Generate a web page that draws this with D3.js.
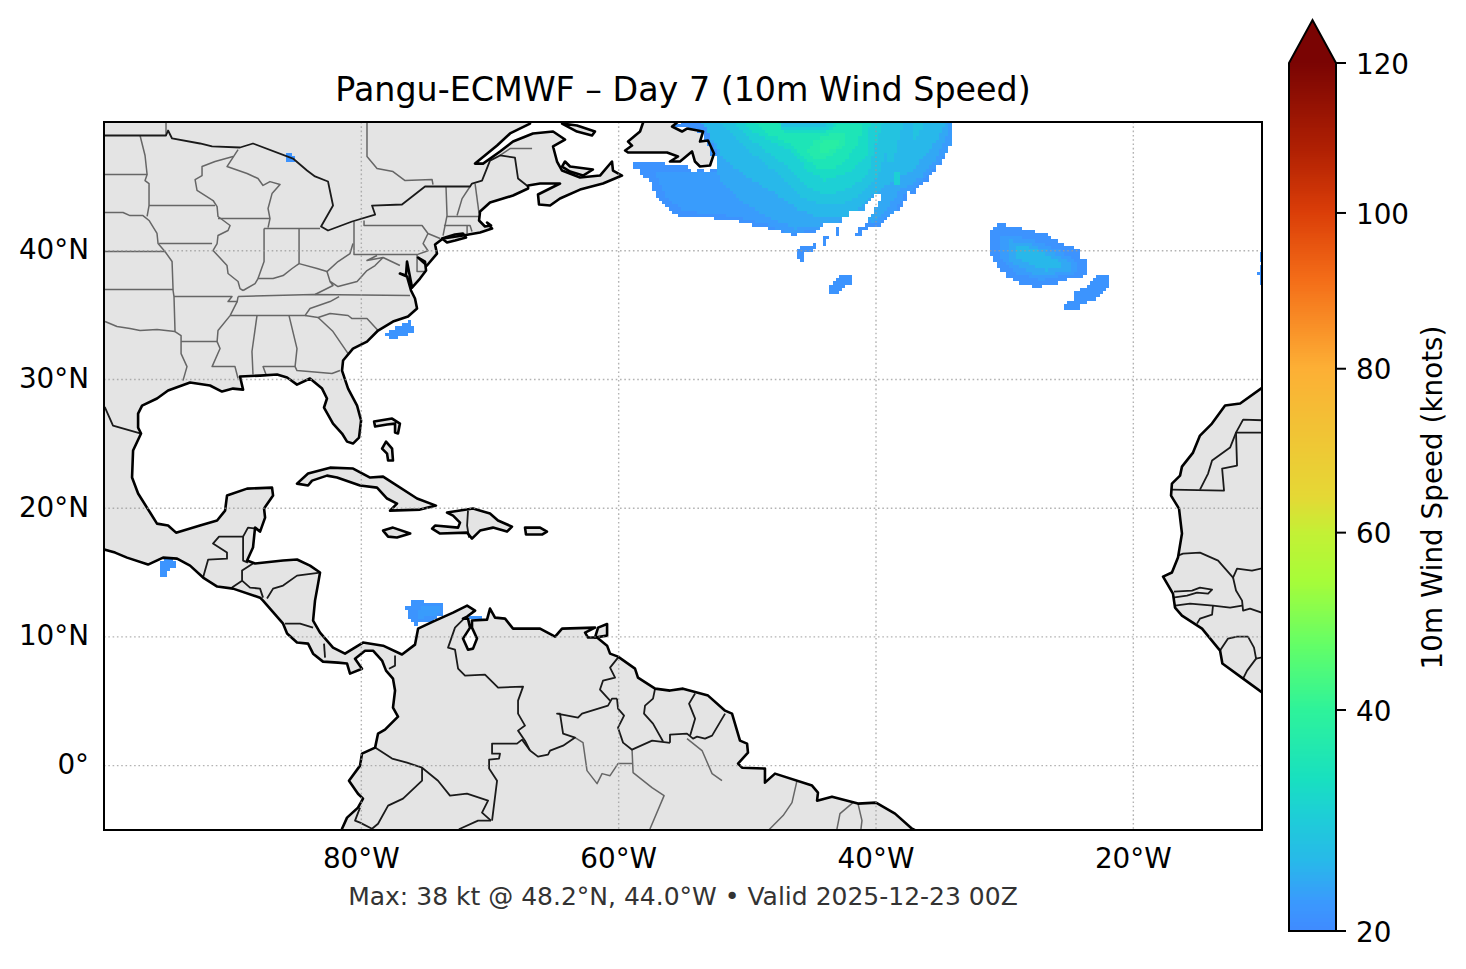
<!DOCTYPE html>
<html>
<head>
<meta charset="utf-8">
<title>Pangu-ECMWF Day 7</title>
<script src="https://cdn.jsdelivr.net/npm/d3@7"></script>
<style>
body { margin: 0; background: #fff; font-family: "DejaVu Sans", sans-serif; }
svg text { font-family: "DejaVu Sans", sans-serif; fill: #000; }
</style>
</head>
<body>
<svg id="chart" width="1466" height="969"></svg>
<script>
// ---- labels and ticks
const titleText = "Pangu-ECMWF \u2013 Day 7 (10m Wind Speed)";
const footText = "Max: 38 kt @ 48.2\u00b0N, 44.0\u00b0W \u2022 Valid 2025-12-23 00Z";
const cbarLabel = "10m Wind Speed (knots)";
const lonTicks = [-80, -60, -40, -20];
const latTicks = [0, 10, 20, 30, 40];
const cbarTicks = [20, 40, 60, 80, 100, 120];

// ---- colours (position 0-1, colour)
const cmapPos = [0, 0.03, 0.078, 0.136, 0.174, 0.2546, 0.327, 0.404, 0.459, 0.5, 0.648, 0.75, 0.827, 0.9, 1];
const cmapCol = ["#3f8cff", "#3b98fe", "#28b8ea", "#1dd0d5", "#18e0c0", "#2ef39a", "#62fe68", "#a8fc38", "#c4f035", "#e5d835", "#fdaf35", "#f46d18", "#db3e08", "#b02003", "#7a0403"];

// ---- land, [lon, lat]
const americas = [[-66.89,50.5],[-66.89,49.88],[-68.44,49.11],[-69.45,48.17],[-71.16,46.77],[-70.54,46.77],[-69.22,47.71],[-68.21,48.48],[-66.66,49.11],[-65.1,49.26],[-64.17,48.64],[-65.1,48.1],[-64.79,46.93],[-64.4,46.23],[-63,45.69],[-61.45,45.84],[-60.52,46.93],[-60.44,46.23],[-59.74,45.84],[-61.22,45.22],[-63,44.75],[-64.56,44.06],[-65.33,43.51],[-66.19,43.59],[-66.27,44.37],[-64.56,45.22],[-66.11,45.22],[-67.04,45.07],[-67.04,44.83],[-68.21,44.29],[-70,43.74],[-70.77,43.05],[-70.85,42.35],[-70.39,41.88],[-69.92,41.96],[-70.23,42.19],[-69.84,41.72],[-70.77,41.41],[-72.1,41.18],[-73.65,40.95],[-73.96,40.71],[-74.27,40.48],[-74.12,39.78],[-74.9,38.85],[-75.59,39.47],[-75.05,39.16],[-74.97,38.46],[-75.44,37.84],[-76.06,37.14],[-76.45,39.16],[-76.53,38.07],[-77,38.23],[-76.45,38],[-76.14,36.91],[-75.83,36.29],[-75.67,35.51],[-76.37,34.89],[-77.54,34.5],[-78.7,33.8],[-79.56,32.94],[-80.65,32.4],[-81.42,31.47],[-81.5,30.69],[-81.03,29.29],[-80.33,27.97],[-80.02,26.81],[-80.18,25.48],[-80.65,25.02],[-81.11,25.17],[-81.5,25.8],[-82.2,26.57],[-82.9,27.82],[-82.67,28.52],[-83.05,29.29],[-83.99,30.07],[-85,29.6],[-85.77,30.15],[-86.55,30.38],[-87.87,30.3],[-89.43,30.23],[-89.19,29.21],[-89.97,29.29],[-90.83,29.06],[-91.76,29.53],[-93.31,29.76],[-95.02,29.14],[-95.88,28.52],[-97.04,27.97],[-97.35,27.35],[-97.35,26.26],[-97.12,25.8],[-97.74,24.48],[-97.82,22.38],[-97.35,21.14],[-96.42,19.66],[-95.88,18.8],[-95.02,18.65],[-94.4,18.1],[-92.54,18.65],[-91.21,19.04],[-90.59,19.81],[-90.44,20.98],[-88.88,21.52],[-86.94,21.6],[-86.86,20.98],[-87.56,19.97],[-87.48,19.27],[-87.87,18.18],[-88.26,18.49],[-88.42,16.94],[-88.88,15.93],[-88.26,15.7],[-86.09,15.93],[-85,16.01],[-83.99,15.54],[-83.21,15],[-83.36,14.14],[-83.6,12.82],[-83.75,11.27],[-83.21,10.33],[-82.2,9.17],[-81.27,8.7],[-79.87,9.56],[-78.31,9.32],[-76.84,8.63],[-75.83,9.4],[-75.59,10.64],[-74.43,11.19],[-72.87,11.89],[-71.78,12.43],[-71.16,12.04],[-71.78,11.58],[-72.1,11.42],[-71.71,11.42],[-71.55,10.72],[-72.1,9.87],[-71.71,9.01],[-71.32,9.09],[-71.01,9.87],[-71.4,10.72],[-71.4,11.27],[-70.23,11.34],[-70,12.2],[-69.61,11.5],[-68.83,11.42],[-68.21,10.64],[-66.11,10.64],[-64.94,10.02],[-64.4,10.64],[-61.84,10.72],[-62.61,10.33],[-62.38,9.95],[-61.68,9.95],[-60.9,9.32],[-60.67,8.7],[-60.05,8.47],[-58.73,7.54],[-58.5,6.84],[-57.17,5.98],[-56.01,5.83],[-55,5.98],[-53.05,5.44],[-51.73,4.27],[-51.19,4.04],[-50.57,1.94],[-50.02,1.71],[-49.95,1.01],[-50.72,0.16],[-50.41,-0.16],[-48.63,-0.23],[-48.63,-1.32],[-47.85,-0.62],[-44.97,-1.55],[-44.51,-2.1],[-44.58,-2.72],[-43.42,-2.41],[-41.4,-2.95],[-40,-2.87],[-38.52,-3.73],[-37.2,-4.9],[-36.73,-5.13],[-36.73,-5.83],[-81.5,-5.83],[-81.5,-4.9],[-81.11,-4.04],[-80.26,-3.26],[-79.87,-2.56],[-80.26,-2.18],[-80.96,-1.17],[-80.1,0],[-79.95,0.93],[-78.93,1.4],[-78.7,2.49],[-78.16,2.8],[-77.15,3.81],[-77.54,4.51],[-77.38,5.83],[-77.54,6.76],[-78.08,7.38],[-78.39,8.16],[-79.09,8.93],[-79.71,8.93],[-80.49,8.31],[-79.95,7.53],[-80.88,7.15],[-81.11,7.93],[-81.81,8],[-82.98,8.08],[-83.75,8.7],[-84.14,9.48],[-85,9.56],[-85.77,10.26],[-86.08,11.03],[-87.64,12.82],[-87.87,13.05],[-89.97,13.75],[-91.2,13.91],[-92.3,14.61],[-93.31,15.54],[-94.32,16.08],[-95.41,16.16],[-96.58,15.62],[-98.21,16.16],[-99.14,16.55],[-99.92,16.78],[-100.7,16.86],[-100.7,50.5]];
const newfoundland = [[-58,50.5],[-58.1,49.96],[-58.34,49.26],[-59.27,48.48],[-58.96,48.17],[-59.5,47.79],[-59.27,47.63],[-56.24,47.63],[-55.39,47.32],[-56.01,46.93],[-55.23,46.93],[-54.3,47.71],[-54.07,46.93],[-53.68,46.54],[-52.9,46.62],[-52.59,47.55],[-53.06,48.56],[-53.68,48.48],[-53.44,49.26],[-54.69,49.49],[-55.08,49.26],[-55.85,49.65],[-55.46,49.96],[-55.4,50.5]];
const anticosti = [[-64.4,49.88],[-63.24,49.73],[-61.84,49.26],[-62.07,48.95],[-63.24,49.26]];
const princeEdward = [[-64.17,46.93],[-63.78,46.54],[-62,46.31],[-62.77,45.84],[-63.78,46.15],[-64.4,46.54]];
const longIsland = [[-73.73,40.95],[-72.72,41.26],[-72.1,41.34],[-71.86,41.03],[-72.72,40.79],[-73.34,40.64]];
const cuba = [[-85,21.91],[-84.14,22.69],[-82.43,23.15],[-80.64,23.08],[-79.32,22.38],[-78.31,22.45],[-75.67,20.75],[-74.2,20.2],[-75.44,19.89],[-77.77,19.81],[-77.23,20.36],[-78,20.75],[-78.78,21.6],[-80.1,21.76],[-81.89,22.38],[-82.67,22.53],[-83.83,22.14],[-84.14,21.76]];
const jamaica = [[-78.31,18.26],[-77.54,18.49],[-76.2,18.03],[-77.23,17.72],[-77.92,17.79]];
const hispaniola = [[-73.34,19.66],[-71.32,19.97],[-70,19.58],[-69.38,19.04],[-68.29,18.57],[-68.68,18.18],[-69.77,18.49],[-70.77,18.26],[-71.4,17.64],[-71.78,18.1],[-73.88,18.03],[-74.5,18.41],[-74.27,18.65],[-72.48,18.49],[-72.33,18.88],[-72.87,19.42]];
const puertoRico = [[-67.28,18.49],[-66.11,18.49],[-65.57,18.18],[-65.96,17.95],[-67.2,17.95]];
const andros = [[-78.39,24.63],[-78.08,25.17],[-77.61,24.63],[-77.54,23.7],[-77.92,23.7],[-78,24.24]];
const abaco = [[-79.01,26.73],[-77.61,26.96],[-77,26.57],[-77.15,25.8],[-77.38,25.87],[-77.38,26.57],[-78,26.5],[-78.93,26.34]];
const trinidad = [[-61.6,10.72],[-60.9,11],[-60.9,10.1],[-61.84,9.95]];
const africa = [[-9.38,5.05],[-9.97,5.67],[-11.47,6.76],[-13.08,7.93],[-13.26,8.94],[-14.66,10.64],[-16.22,11.66],[-16.76,12.28],[-16.92,13.36],[-17.69,14.68],[-17,15],[-16.53,16.16],[-16.22,18.03],[-16.45,19.97],[-17.07,20.98],[-17,21.91],[-16.37,22.53],[-16.22,23.23],[-15.36,24.32],[-14.82,25.64],[-13.89,26.57],[-12.87,27.97],[-11.7,28.13],[-9.97,29.37],[-9.38,29.76]];
const landPolygons = [americas, newfoundland, anticosti, princeEdward, longIsland, cuba, jamaica, hispaniola, puertoRico, andros, abaco, trinidad, africa];

// ---- country borders
const countryBorders = [
  [[-100.7,48.95],[-95.18,48.95],[-95.02,49.34],[-94.71,48.72],[-92.54,48.33],[-91.6,48.1],[-89.43,48.02],[-88.42,48.33],[-85.31,47.16],[-84.22,46.23],[-83.6,45.77],[-82.59,45.38],[-82.2,43.51],[-83.13,41.88],[-82.59,41.57],[-80.72,42.27],[-78.93,42.81],[-79.17,43.51],[-76.84,43.59],[-75.05,44.99],[-71.55,44.99],[-71.4,45.22],[-70.62,45.45],[-70,47],[-69.22,47.4],[-68.06,47.24],[-67.82,45.61],[-67.04,44.99]],
  [[-100.7,27.8],[-99.92,27.82],[-99.3,26.42],[-97.12,25.8]],
  [[-71.71,19.81],[-71.78,18.65],[-71.63,17.72]],
  [[-92.3,14.61],[-91.91,16],[-90.44,16.08],[-90.44,16.55],[-91.53,17.25],[-91.06,17.79],[-89.19,17.79],[-89.19,15.93],[-88.81,15.77]],
  [[-89.19,17.79],[-88.81,18.49],[-88.11,18.41]],
  [[-88.42,15.7],[-89.27,15.15],[-89.27,14.37],[-90.05,13.83]],
  [[-89.27,14.37],[-88.65,13.83],[-87.87,13.75],[-87.64,13.05]],
  [[-87.33,12.98],[-86.86,13.75],[-86.08,13.99],[-85,14.76],[-83.21,15]],
  [[-85.93,11.03],[-84.76,11.03],[-83.75,10.72]],
  [[-82.9,9.48],[-82.82,8.39]],
  [[-77.38,8.55],[-77.38,7.77],[-77.85,7.53]],
  [[-71.94,11.5],[-72.72,10.72],[-73.26,9.17],[-72.72,9.01],[-72.48,7.54],[-71.94,7],[-70.39,7.07],[-69.37,6.06],[-67.43,6.14],[-67.82,5.05],[-67.82,4.04],[-67.28,3.11],[-67.82,2.72],[-67.28,1.94],[-66.89,1.17]],
  [[-66.89,1.17],[-67.51,2.02],[-67.9,1.71],[-69.84,1.71],[-69.84,0.93],[-69.22,0.93],[-69.3,0.55],[-70.07,0.47],[-70.07,-0.23],[-69.45,-1.17],[-69.84,-4.27]],
  [[-66.89,1.17],[-66.27,0.7],[-65.49,0.85],[-65.33,1.17],[-64.32,1.55],[-63.39,2.18],[-64.32,2.49],[-64.56,4.04],[-64.79,4.04],[-63.16,3.73],[-62.85,4.04],[-60.83,4.66],[-60.52,5.21],[-60.13,5.21]],
  [[-60.05,8.39],[-60.67,7.61],[-60.28,6.84],[-61.22,6.6],[-61.45,5.91],[-60.67,5.05]],
  [[-60.13,5.21],[-60.05,4.43],[-59.58,3.88],[-60.05,2.95],[-59.66,1.79],[-58.96,1.24],[-57.4,1.94],[-56.01,1.77]],
  [[-57.17,5.98],[-57.33,5.21],[-57.95,4.66],[-58.03,4.04],[-57.33,3.26],[-56.55,1.87]],
  [[-56.01,1.77],[-56.01,2.41],[-54.69,2.49],[-54.22,2.1],[-53.91,2.25],[-53.29,2.1],[-52.74,2.33],[-51.73,4.04]],
  [[-54.06,5.6],[-54.53,4.82],[-54.06,3.65],[-54.45,2.33]],
  [[-78.93,1.4],[-77.61,0.55],[-76.45,0.23],[-75.28,-0.16],[-74.04,-1.17],[-73.11,-2.33],[-71.79,-2.18],[-70.15,-2.72],[-70.62,-3.65],[-69.92,-4.27]],
  [[-75.28,-0.16],[-75.28,-1.17],[-76.76,-2.56],[-77.92,-3.11],[-78.7,-4.51],[-79.17,-4.9],[-80.1,-4.43],[-80.49,-4.27],[-80.1,-3.26]],
  [[-69.92,-4.27],[-70.93,-4.27],[-72.33,-4.9],[-72.95,-5.4]],
  [[-17,21.44],[-12.95,21.37],[-13.1,23.08],[-11.94,23.31],[-12.02,25.87],[-9.38,25.87]],
  [[-14.82,21.44],[-14.19,22.69],[-13.88,23.7],[-12.48,24.71],[-12.02,25.87],[-11.47,26.88],[-9.38,26.81]],
  [[-16.53,16.32],[-16.14,16.47],[-14.82,16.55],[-13.41,15.93],[-12.25,14.61],[-11.94,15.31],[-10.78,15.15],[-9.38,15.46]],
  [[-12.25,14.61],[-12.02,13.6],[-11.55,12.82],[-11.47,12.04],[-10.93,12.2],[-9.38,11.66]],
  [[-16.84,13.52],[-15.44,13.6],[-14.82,13.83],[-13.88,13.68],[-14.19,13.36],[-15.05,13.44],[-15.83,13.21],[-16.92,13.05]],
  [[-16.76,12.43],[-15.59,12.59],[-13.81,12.43],[-12.48,12.28],[-11.55,12.43]],
  [[-13.81,12.43],[-13.88,11.73],[-14.82,11.42],[-15.05,11.03]],
  [[-13.26,8.94],[-12.64,9.87],[-11.94,10.02],[-11.09,10.02],[-10.62,9.17],[-10.46,8.31],[-9.38,8.55]],
  [[-10.46,8.31],[-11.16,7.38],[-11.47,6.76]]
];

// ---- state and province lines
const stateLines = [
  [[-95.18,50.5],[-95.18,48.95]],
  [[-79.56,50.5],[-79.56,47.32],[-78.78,46.39],[-77.54,46.15],[-76.6,45.45],[-74.5,45.53],[-74.43,45.14]],
  [[-69.22,47.4],[-68.44,47.94],[-66.73,47.94]],
  [[-97.2,48.95],[-96.81,47.4],[-96.65,45.92],[-96.81,45.45],[-96.5,45.22],[-96.5,43.51],[-96.65,42.66]],
  [[-100.7,45.92],[-96.65,45.92]],
  [[-100.7,42.97],[-98.52,42.97],[-97.98,42.73],[-96.97,42.73],[-96.5,42.35],[-95.88,41.34],[-95.8,40.56],[-95.26,39.94],[-94.71,39.16],[-94.63,36.91],[-94.56,36.44],[-94.48,33.72],[-94.01,33.41],[-94.01,32.01],[-93.55,31],[-93.86,29.91]],
  [[-99.92,34.5],[-98.99,34.11],[-97.98,33.96],[-97.2,33.8],[-95.88,33.88],[-94.48,33.72]],
  [[-100.7,39.94],[-95.26,39.94]],
  [[-100.7,36.98],[-94.63,36.98]],
  [[-96.5,43.51],[-91.37,43.51]],
  [[-95.72,40.56],[-91.6,40.56]],
  [[-89.97,47.32],[-91.37,46.93],[-92.38,46.54],[-92.38,45.84],[-92.92,45.53],[-92.77,44.68],[-91.52,43.9],[-91.21,43.43],[-91.14,42.66],[-90.2,41.96],[-90.36,41.57],[-91.14,41.18],[-91.21,40.56],[-91.52,40.02],[-90.44,38.85],[-90.36,38.23],[-89.58,37.61],[-89.43,37.06],[-89.19,36.91]],
  [[-89.58,47.86],[-90.44,46.54],[-88.88,46],[-88.03,45.61],[-87.64,45.07],[-87.1,45.37],[-86.32,45.14],[-86.94,44.44],[-87.25,43.28],[-87.1,42.5],[-87.25,41.8]],
  [[-91.14,42.5],[-87.1,42.5]],
  [[-87.56,41.72],[-83.21,41.72]],
  [[-87.56,41.72],[-87.56,39.16],[-88.03,37.84]],
  [[-84.84,41.72],[-84.84,39]],
  [[-89.19,36.91],[-88.26,37.45],[-88.03,37.84],[-86.86,37.84],[-86.08,38.07],[-85.38,38.62],[-84.84,39],[-83.44,38.62],[-82.67,38.38],[-81.81,39.16],[-80.88,39.78],[-80.65,40.56]],
  [[-80.57,42.27],[-80.57,39.7],[-75.67,39.7]],
  [[-79.79,42.35],[-79.79,41.96],[-75.28,41.96],[-74.82,41.34],[-73.88,40.95]],
  [[-74.82,41.34],[-75.2,40.56],[-74.82,40],[-75.67,39.7]],
  [[-82.67,38.38],[-82.43,37.61],[-81.81,37.22],[-80.33,37.61],[-79.56,38.46],[-78.93,38.85],[-78.31,39.47],[-79.56,39.24],[-78.78,39.63]],
  [[-78.31,39.47],[-77,38.85]],
  [[-82.43,37.61],[-82.2,37.3],[-83.6,36.6]],
  [[-89.58,36.44],[-83.75,36.6],[-76.22,36.52]],
  [[-94.56,36.44],[-90.05,36.44],[-90.36,36.05],[-89.65,36.05],[-89.58,36.44]],
  [[-89.65,36.05],[-90.2,34.96],[-91.14,33.8],[-91.21,32.94],[-90.98,32.4],[-91.6,31],[-89.82,31],[-89.58,30.07]],
  [[-94.01,32.94],[-91.21,32.94]],
  [[-90.2,34.96],[-84.38,34.96],[-83.99,35.51],[-82.43,36.05],[-81.73,36.44]],
  [[-88.11,34.96],[-88.5,32.17],[-88.42,30.38]],
  [[-85.62,34.96],[-85,32.4],[-85.15,31]],
  [[-87.41,30.38],[-87.64,31],[-85.15,31],[-85,30.69],[-82.28,30.46],[-81.66,30.69]],
  [[-83.36,34.81],[-82.2,33.72],[-81.03,32.01]],
  [[-84.38,34.96],[-83.36,34.81],[-82.43,35.12],[-81.03,34.97],[-80.72,34.73],[-79.56,34.73],[-78.7,33.8]],
  [[-73.42,44.99],[-73.34,42.73],[-73.65,41.18]],
  [[-71.55,44.99],[-72.17,44.05],[-72.56,42.73]],
  [[-71.16,45.22],[-70.85,42.89]],
  [[-73.34,42.66],[-70.85,42.66]],
  [[-73.58,41.96],[-71.55,41.96],[-71.4,41.49]],
  [[-71.78,41.96],[-71.78,41.34]],
  [[-75.67,39.7],[-75.67,38.38],[-75.05,38.38]],
  [[-63.39,2.18],[-62.77,1.79],[-62.46,-0.39],[-61.68,-1.4],[-61.29,-0.62],[-60.67,-0.78],[-60.05,0.16],[-58.96,0.16]],
  [[-58.96,1.24],[-58.88,-0.54],[-57.41,-1.71],[-56.47,-2.33],[-57.56,-4.9],[-57.87,-5.52]],
  [[-54.69,2.1],[-53.52,1.17],[-52.74,-0.62],[-51.97,-1.17]],
  [[-46.14,-1.17],[-46.53,-2.87],[-47.22,-3.88],[-48.24,-4.9],[-48.86,-5.52]],
  [[-41.79,-2.87],[-42.8,-3.73],[-43.03,-4.9],[-43.03,-5.5]],
  [[-41.4,-2.95],[-41.09,-4.27],[-41.24,-5.5]]
];

// ---- wind: areas above 20 kt and the speed read at their edge
const atlanticLow = [[-58.88,46.85],[-56.4,46.85],[-56.4,46.54],[-54.61,46.54],[-54.3,46.15],[-53.44,46.31],[-53.29,46.15],[-52.51,46.31],[-52.43,47.32],[-52.82,47.32],[-53.05,48.48],[-53.52,49.11],[-54.61,49.49],[-55.77,49.65],[-55.07,49.96],[-55.07,50.5],[-34.17,50.5],[-34.17,48.87],[-34.01,48.95],[-34.4,47.79],[-34.79,46.93],[-35.41,46.39],[-35.96,45.38],[-36.73,45.07],[-36.81,44.6],[-37.12,44.29],[-37.51,44.68],[-37.59,44.06],[-37.98,43.43],[-38.68,42.89],[-39.14,42.5],[-39.45,42.04],[-40.23,41.88],[-41.01,41.57],[-41.24,41.18],[-41.63,41.18],[-41.47,41.57],[-41.24,41.96],[-40.62,42.04],[-40.46,42.66],[-40.07,43.28],[-39.76,43.82],[-39.69,44.29],[-40.15,44.29],[-40.85,43.59],[-41.01,43.05],[-42.17,43.05],[-42.25,42.58],[-42.64,42.58],[-42.79,42.04],[-44.12,42.04],[-44.35,41.57],[-44.89,41.34],[-45.67,41.34],[-46.45,41.18],[-46.92,41.34],[-48,41.65],[-49.01,41.88],[-49.95,42.11],[-51.11,42.35],[-53.44,42.58],[-54.92,42.58],[-55.62,42.89],[-56.4,43.51],[-57.17,44.44],[-57.41,45.22],[-57.8,45.61],[-58.19,45.84],[-58.5,46.31],[-58.88,46.39]];
const azoresLow = [[-30.6,42.03],[-30.13,42.03],[-28.96,41.8],[-27.87,41.57],[-26.86,41.33],[-26.39,41.03],[-25.93,40.79],[-25.46,40.56],[-24.68,40.33],[-24.14,40.09],[-24.14,39.55],[-23.91,39.39],[-23.68,39.24],[-23.68,38.07],[-24.14,37.84],[-25.15,37.84],[-25.15,37.61],[-25.93,37.61],[-25.93,37.37],[-27.17,37.29],[-27.17,37.06],[-27.87,37.06],[-27.87,37.37],[-28.65,37.37],[-29.12,37.68],[-29.74,37.92],[-29.89,38.31],[-30.52,38.54],[-30.67,39],[-30.9,39.24],[-31.13,39.86],[-31.13,41.57],[-30.9,41.8]];
const windPatches = [
  { speed: 20.8, ring: atlanticLow },
  { speed: 20.8, ring: azoresLow },
  { speed: 20.8, ring: [[-46.14,39.39],[-46.06,39.94],[-45.67,40.33],[-44.74,40.56],[-44.66,40.33],[-44.97,39.94],[-45.67,39.78],[-45.67,39.12]] },
  { speed: 20.8, ring: [[-44.12,41.1],[-43.65,41.1],[-43.88,40.4],[-44.12,40.4]] },
  { speed: 20.8, ring: [[-43.2,41.8],[-42.87,41.8],[-42.87,41.18],[-43.2,41.18]] },
  { speed: 21, ring: [[-42.79,38.07],[-41.86,38.07],[-41.86,37.29],[-42.56,37.22],[-42.95,36.6],[-43.42,36.6],[-43.65,36.99],[-43.34,37.61]] },
  { speed: 21, ring: [[-22.67,38.07],[-21.89,38.07],[-21.89,37.37],[-22.12,37.06],[-22.43,36.83],[-22.67,36.36],[-22.9,36.05],[-23.68,36.05],[-23.68,35.82],[-24.14,35.82],[-24.14,35.59],[-24.38,35.35],[-25.39,35.35],[-25.39,35.74],[-25.15,36.05],[-24.68,36.05],[-24.68,36.6],[-24.14,37.06],[-23.6,37.29],[-23.37,37.61],[-23.14,37.84]] },
  { speed: 20.8, ring: [[-10.15,39.86],[-9.9,39.86],[-9.9,39.08],[-10.15,39.08]] },
  { speed: 20.8, ring: [[-10.15,38.85],[-9.9,38.85],[-9.9,37.29],[-10.15,37.29]] },
  { speed: 20.8, ring: [[-10.35,38.4],[-10.1,38.4],[-10.1,38.1],[-10.35,38.1]] },
  { speed: 21, ring: [[-78.39,33.33],[-78,33.56],[-77.92,33.8],[-77.38,33.95],[-76.84,34.27],[-76.37,34.34],[-76.37,34.58],[-76.14,34.58],[-76.14,34.11],[-75.91,34.11],[-75.91,33.56],[-76.45,33.56],[-76.45,33.33],[-77.15,33.33],[-77.15,33.1],[-77.92,33.1],[-77.92,33.33]] },
  { speed: 20.8, ring: [[-85.93,47.55],[-85.38,47.55],[-85.38,47.32],[-85.15,47.32],[-85.15,46.93],[-85.93,46.93]] },
  { speed: 21, ring: [[-95.64,15.69],[-95.26,16],[-94.63,16.08],[-94.4,15.77],[-94.4,15.39],[-94.87,15.23],[-95.18,14.92],[-95.18,14.61],[-95.64,14.61]] },
  { speed: 21, ring: [[-76.68,12.35],[-76.06,12.35],[-76.06,12.82],[-75.13,12.82],[-75.13,12.59],[-73.65,12.59],[-73.65,11.81],[-74.04,11.5],[-74.43,11.19],[-75.67,11.11],[-75.67,10.8],[-75.98,10.8],[-75.98,11.11],[-76.45,11.5],[-76.45,12.12],[-76.68,12.12]] },
  { speed: 21, ring: [[-71.71,11.58],[-70.62,11.58],[-70.62,11.35],[-71.71,11.35]] }
];
// isotachs inside those areas, low to high
const windIsotachs = [
  { speed: 22, ring: [[-57.17,46.08],[-54.45,46.08],[-52.43,46.23],[-52.35,47.79],[-53.29,50.12],[-53.29,50.5],[-33.86,50.5],[-33.86,48.56],[-34.64,47.4],[-35.8,46.08],[-36.97,44.99],[-37.75,44.29],[-38.52,43.12],[-39.69,42.19],[-40.62,42.19],[-40.31,43.12],[-39.53,44.29],[-40,44.52],[-41.08,43.51],[-41.24,42.97],[-42.41,42.73],[-42.79,42.19],[-44.35,41.72],[-46.68,41.34],[-49.01,42.19],[-51.35,42.73],[-53.68,42.97],[-55.23,43.28],[-56.4,44.29]] },
  { speed: 22, ring: [[-30.36,41.18],[-28.03,40.95],[-25.7,40.02],[-24.3,39.08],[-24.3,38.31],[-27.25,37.68],[-29.2,38.31],[-30.36,39.39]] },
  { speed: 22, ring: [[-75.44,12.43],[-73.88,12.43],[-74.04,11.74],[-75.59,11.42]] },
  { speed: 23.2, ring: [[-53.68,50.5],[-34.25,50.5],[-34.4,48.95],[-35.41,47.01],[-36.58,45.61],[-38.13,44.68],[-39.07,43.28],[-40.07,42.19],[-42.02,42.73],[-42.95,42.19],[-44.74,41.96],[-46.29,41.72],[-48.24,42.5],[-50.18,43.67],[-51.73,45.07],[-52.43,46.08],[-52.43,47.79]] },
  { speed: 23.2, ring: [[-29.74,40.79],[-28.03,40.56],[-25.7,39.63],[-24.77,38.85],[-24.93,38.46],[-27.25,38.07],[-28.8,38.62],[-29.74,39.39]] },
  { speed: 25, ring: [[-53.83,50.5],[-34.63,50.5],[-34.79,49.34],[-35.8,47.79],[-37.2,46.23],[-38.91,45.3],[-39.69,44.68],[-40.31,44.29],[-41.24,43.28],[-42.41,42.5],[-44.74,42.73],[-46.29,43.36],[-48.24,44.68],[-50.18,45.84],[-51.73,47.01],[-52.43,48.17]] },
  { speed: 25, ring: [[-29.2,40.4],[-28.03,40.25],[-26.09,39.39],[-25.31,38.85],[-26.86,38.46],[-28.42,39.08],[-29.2,39.63]] },
  { speed: 27, ring: [[-52.51,50.5],[-47.23,50.5],[-47,49.81],[-44.35,49.81],[-44.04,50.5],[-38.13,50.5],[-38.75,48.95],[-39.3,47.4],[-39.84,45.84],[-41.24,44.29],[-42.79,43.51],[-44.19,43.51],[-45.9,44.29],[-47.46,45.84],[-49.4,47.4],[-50.96,48.95]] },
  { speed: 27, ring: [[-38.52,50.5],[-37.74,50.5],[-38.13,48.95],[-38.68,47],[-39.22,46.62],[-39.07,48.95]] },
  { speed: 27, ring: [[-36.97,50.5],[-36.19,50.5],[-36.58,48.95],[-37.2,48.56],[-37.2,49.73]] },
  { speed: 29.5, ring: [[-51.35,50.5],[-47.46,50.5],[-47.23,49.57],[-43.96,49.57],[-43.57,50.5],[-39.3,50.5],[-39.84,48.95],[-40.31,47.01],[-40.62,45.84],[-42.41,44.68],[-43.96,44.29],[-45.52,45.07],[-47.07,46.62],[-48.63,47.79],[-50.18,48.95]] },
  { speed: 29.5, ring: [[-38.52,46.23],[-38.13,46.23],[-38.13,45.07],[-38.52,45.07]] },
  { speed: 32, ring: [[-50.57,50.5],[-47.61,50.5],[-47.3,49.34],[-43.73,49.34],[-43.18,50.27],[-40.46,50.27],[-40.62,47.4],[-42.02,46.08],[-43.96,45.45],[-45.28,46.23],[-46.68,47.79],[-48.24,48.56],[-49.79,49.34]] },
  { speed: 34.5, ring: [[-49.79,50.5],[-47.85,50.5],[-47.07,49.11],[-43.96,49.18],[-42.79,49.96],[-41.09,49.73],[-41.4,48.17],[-42.79,46.62],[-44.19,46.23],[-45.52,47.16],[-46.68,48.33],[-48.24,48.95]] },
  { speed: 36.5, ring: [[-45.28,47.79],[-44.74,48.56],[-43.57,49.03],[-42.41,49.03],[-42.25,48.33],[-43.18,47.63],[-44.19,47.16],[-44.97,47.24]] },
  { speed: 38, ring: [[-44.5,48.1],[-43.96,48.56],[-42.95,48.72],[-42.95,48.17],[-43.81,47.63],[-44.35,47.63]] }
];

// ---- scales
const x = d3.scaleLinear().domain([-100, -10]).range([104, 1262]);
const y = d3.scaleLinear().domain([-5, 50]).range([830, 122]);
// power norm over 20-120 kt, same one for the colours and for the colorbar axis
const norm = d3.scalePow().exponent(0.85).domain([0, 100]).range([0, 1]);
const cmap = d3.scaleLinear().domain(cmapPos).range(cmapCol).interpolate(d3.interpolateRgb);
const speedColor = v => cmap(norm(v - 20));
const cbarY = v => 931 - 868 * norm(v - 20);

const svg = d3.select("#chart");
svg.append("defs").append("clipPath").attr("id", "ax")
  .append("rect").attr("x", 104).attr("y", 122).attr("width", 1158).attr("height", 708);

const map = svg.append("g").attr("clip-path", "url(#ax)");
const geoLine = d3.line().x(d => x(d[0])).y(d => y(d[1]));
const closed = ring => geoLine(ring) + "Z";

// land
map.append("g").selectAll("path").data(landPolygons).join("path")
  .attr("d", closed).attr("fill", "#e4e4e4").attr("stroke", "none");

// wind on the model's quarter degree grid
const cells = [];
for (const lon of d3.range(-100, -9.99, 0.25)) {
  for (const lat of d3.range(-5, 50.01, 0.25)) {
    const p = [lon, lat];
    const patch = windPatches.find(w => d3.polygonContains(w.ring, p));
    if (!patch) continue;
    let speed = patch.speed;
    for (const w of windIsotachs) if (d3.polygonContains(w.ring, p)) speed = Math.max(speed, w.speed);
    cells.push({ lon, lat, speed });
  }
}
map.append("g").attr("shape-rendering", "crispEdges").selectAll("rect").data(cells).join("rect")
  .attr("x", d => x(d.lon - 0.125))
  .attr("y", d => y(d.lat + 0.125))
  .attr("width", x(0.25) - x(0))
  .attr("height", y(0) - y(0.25))
  .attr("fill", d => speedColor(d.speed));

// lines
map.append("g").selectAll("path").data(stateLines).join("path")
  .attr("d", geoLine).attr("fill", "none").attr("stroke", "#666")
  .attr("stroke-width", 1.5).attr("stroke-linejoin", "round");
map.append("g").selectAll("path").data(countryBorders).join("path")
  .attr("d", geoLine).attr("fill", "none").attr("stroke", "#1a1a1a")
  .attr("stroke-width", 1.8).attr("stroke-linejoin", "round");
map.append("g").selectAll("path").data(landPolygons).join("path")
  .attr("d", closed).attr("fill", "none").attr("stroke", "#000")
  .attr("stroke-width", 2.6).attr("stroke-linejoin", "round");

// grid
const grid = map.append("g").attr("stroke", "#999").attr("stroke-opacity", 0.75)
  .attr("stroke-width", 1.4).attr("stroke-dasharray", "1.6 2.7");
grid.selectAll(".glon").data(lonTicks).join("line").attr("class", "glon")
  .attr("x1", d => x(d)).attr("x2", d => x(d)).attr("y1", 122).attr("y2", 830);
grid.selectAll(".glat").data(latTicks).join("line").attr("class", "glat")
  .attr("y1", d => y(d)).attr("y2", d => y(d)).attr("x1", 104).attr("x2", 1262);

// frame
svg.append("rect").attr("x", 104).attr("y", 122).attr("width", 1158).attr("height", 708)
  .attr("fill", "none").attr("stroke", "#000").attr("stroke-width", 2);

// tick labels
svg.selectAll(".lonlab").data(lonTicks).join("text").attr("class", "lonlab")
  .attr("x", d => x(d)).attr("y", 868).attr("text-anchor", "middle").attr("font-size", 27.8)
  .text(d => Math.abs(d) + "\u00b0W");
svg.selectAll(".latlab").data(latTicks).join("text").attr("class", "latlab")
  .attr("x", 89).attr("y", d => y(d) + 8.5).attr("text-anchor", "end").attr("font-size", 27.8)
  .text(d => d === 0 ? "0\u00b0" : d + "\u00b0N");

svg.append("text").attr("x", 683).attr("y", 101).attr("text-anchor", "middle")
  .attr("font-size", 33.3).text(titleText);
svg.append("text").attr("x", 683).attr("y", 905).attr("text-anchor", "middle")
  .attr("font-size", 25).style("fill", "#333").text(footText);

// colorbar
const cb = svg.append("g");
const bandVals = d3.range(20, 120, 0.25);
cb.append("g").attr("shape-rendering", "crispEdges").selectAll("rect").data(bandVals).join("rect")
  .attr("x", 1289).attr("width", 47)
  .attr("y", d => cbarY(d + 0.25) - 0.5)
  .attr("height", d => cbarY(d) - cbarY(d + 0.25) + 1)
  .attr("fill", d => speedColor(d));
const cbTop = cbarY(120), cbBot = cbarY(20);
const outline = d3.path();
outline.moveTo(1289, cbBot); outline.lineTo(1289, cbTop); outline.lineTo(1312.5, 20);
outline.lineTo(1336, cbTop); outline.lineTo(1336, cbBot); outline.closePath();
cb.insert("path", ":first-child").attr("d", outline.toString()).attr("fill", speedColor(120));
cb.append("path").attr("d", outline.toString()).attr("fill", "none")
  .attr("stroke", "#000").attr("stroke-width", 2).attr("stroke-linejoin", "miter");

const cbTicks = svg.append("g").selectAll("g").data(cbarTicks).join("g")
  .attr("transform", d => `translate(1336,${cbarY(d)})`);
cbTicks.append("line").attr("x2", 10).attr("stroke", "#000").attr("stroke-width", 2);
cbTicks.append("text").attr("x", 20).attr("dy", "0.38em").attr("font-size", 27.8).text(d => d);

svg.append("text").attr("transform", "translate(1442,497.5) rotate(-90)")
  .attr("text-anchor", "middle").attr("font-size", 27.8).text(cbarLabel);
</script>
</body>
</html>
